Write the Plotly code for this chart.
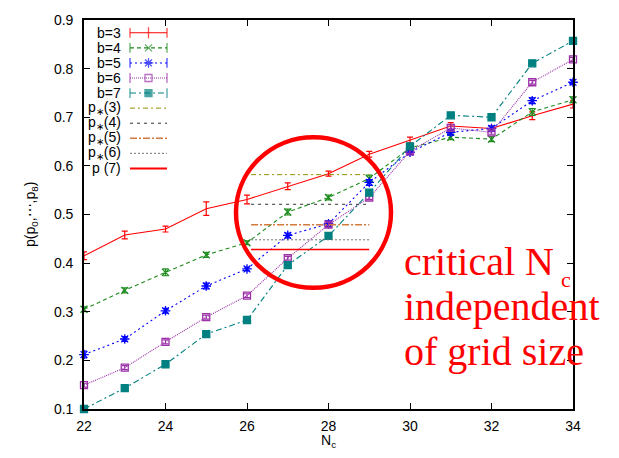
import plotly.graph_objects as go

# ---------------- data ----------------
nc = [22, 23, 24, 25, 26, 27, 28, 29, 30, 31, 32, 33, 34]
b3 = [0.415, 0.458, 0.470, 0.512, 0.531, 0.558, 0.584, 0.624, 0.653, 0.682, 0.677, 0.703, 0.727]
b3_err = [0.008, 0.008, 0.006, 0.014, 0.009, 0.007, 0.005, 0.006, 0.006, 0.007, 0.005, 0.008, 0.008]
b4 = [0.305, 0.344, 0.381, 0.417, 0.442, 0.505, 0.535, 0.574, 0.637, 0.659, 0.655, 0.711, 0.736]
b4_err = [0.005, 0.005, 0.007, 0.005, 0.004, 0.006, 0.005, 0.007, 0.006, 0.005, 0.005, 0.007, 0.006]
b5 = [0.212, 0.244, 0.302, 0.353, 0.388, 0.457, 0.481, 0.566, 0.628, 0.669, 0.677, 0.734, 0.772]
b5_err = [0.007, 0.005, 0.005, 0.006, 0.004, 0.005, 0.006, 0.006, 0.005, 0.006, 0.005, 0.006, 0.005]
b6 = [0.149, 0.185, 0.238, 0.289, 0.333, 0.410, 0.479, 0.535, 0.630, 0.678, 0.669, 0.772, 0.819]
b6_err = [0.004, 0.004, 0.004, 0.004, 0.004, 0.004, 0.005, 0.004, 0.004, 0.004, 0.004, 0.004, 0.004]
b7 = [0.100, 0.143, 0.192, 0.254, 0.283, 0.396, 0.456, 0.545, 0.640, 0.704, 0.700, 0.811, 0.857]
b7_err = [0.003, 0.003, 0.003, 0.005, 0.003, 0.004, 0.004, 0.005, 0.004, 0.004, 0.003, 0.003, 0.003]

pstar_x = [26.1, 29.0]
pstar_levels = [0.582, 0.521, 0.479, 0.448, 0.428]
pstar_names = ["p<sub>∗</sub>(3)", "p<sub>∗</sub>(4)", "p<sub>∗</sub>(5)", "p<sub>∗</sub>(6)", "p (7)"]

series_names = ["b=3", "b=4", "b=5", "b=6", "b=7"]
x_ticks = [22, 24, 26, 28, 30, 32, 34]
y_ticks = [0.1, 0.2, 0.3, 0.4, 0.5, 0.6, 0.7, 0.8, 0.9]

# ---------------- styles ----------------
W, H = 619, 458
L, R, T, B = 84, 573, 14, 409  # plot area in pixels


def px(x):
    return (x - L) / (R - L)


def py(y):
    return (B - y) / (B - T)


series_styles = [
    dict(color="#ff0000", dash="solid", symbol="line-ns-open", msize=0),
    dict(color="#1e8c1e", dash="4px,3px", symbol="x-thin-open", msize=7),
    dict(color="#0000ff", dash="2px,3px", symbol="asterisk-open", msize=8),
    dict(color="#9b30a8", dash="1px,1px", symbol="square-open", msize=7),
    dict(color="#008080", dash="6px,3px,2px,3px", symbol="square", msize=7),
]
pstar_styles = [
    dict(color="#8f8f00", dash="5px,3px,2px,3px", width=1),
    dict(color="#303030", dash="3px,4px", width=1),
    dict(color="#d07a3c", dash="7px,2px,2px,2px", width=1.5),
    dict(color="#707070", dash="2px,2px", width=1),
    dict(color="#ff0000", dash="solid", width=1.5),
]

fig = go.Figure()

all_y = [b3, b4, b5, b6, b7]
all_err = [b3_err, b4_err, b5_err, b6_err, b7_err]
for name, ys, errs, st in zip(series_names, all_y, all_err, series_styles):
    marker = dict(color=st["color"], size=st["msize"], symbol=st["symbol"],
                  line=dict(color=st["color"], width=1.3))
    if name == "b=3":
        marker = dict(color=st["color"], size=0.1)
    fig.add_trace(go.Scatter(
        x=nc, y=ys, mode="lines+markers", name=name, cliponaxis=False,
        line=dict(color=st["color"], width=1.1, dash=st["dash"]),
        marker=marker,
        error_y=dict(type="data", array=errs, visible=True, color=st["color"],
                     thickness=1.2, width=3),
        showlegend=False,
    ))

for name, lvl, st in zip(pstar_names, pstar_levels, pstar_styles):
    fig.add_trace(go.Scatter(
        x=pstar_x, y=[lvl, lvl], mode="lines", name=name,
        line=dict(color=st["color"], width=st["width"], dash=st["dash"]),
        showlegend=False,
    ))

# ---------------- custom legend (pixel coords on overlay axes) ----------------
leg_rows = [27, 42.3, 57.6, 72.9, 88.2, 103.5, 118.8, 134.1, 149.4, 164.7]
leg_text_right = 123
leg_x0, leg_xm, leg_x1 = 130, 148.5, 167
for i, (name, st) in enumerate(zip(series_names, series_styles)):
    yy = leg_rows[i]
    fig.add_trace(go.Scatter(
        x=[leg_x0, leg_x1], y=[yy, yy], mode="lines", xaxis="x2", yaxis="y2",
        line=dict(color=st["color"], width=1.1, dash=st["dash"]),
        showlegend=False, hoverinfo="skip", cliponaxis=False,
    ))
    mid_sym = "line-ns-open" if name == "b=3" else st["symbol"]
    mid_size = 8 if name == "b=3" else st["msize"]
    fig.add_trace(go.Scatter(
        x=[leg_x0, leg_xm, leg_x1], y=[yy, yy, yy], mode="markers", xaxis="x2", yaxis="y2",
        marker=dict(symbol=["line-ns-open", mid_sym, "line-ns-open"],
                    size=[7, mid_size, 7], color=st["color"],
                    line=dict(color=st["color"], width=1.3)),
        showlegend=False, hoverinfo="skip", cliponaxis=False,
    ))
for j, (name, st) in enumerate(zip(pstar_names, pstar_styles)):
    yy = leg_rows[5 + j]
    fig.add_trace(go.Scatter(
        x=[leg_x0, leg_x1], y=[yy, yy], mode="lines", xaxis="x2", yaxis="y2",
        line=dict(color=st["color"], width=st["width"] + 0.5 if j == 4 else st["width"], dash=st["dash"]),
        showlegend=False, hoverinfo="skip", cliponaxis=False,
    ))

annotations = []
for i, name in enumerate(series_names + pstar_names):
    annotations.append(dict(
        x=px(leg_text_right), y=py(leg_rows[i]), xref="paper", yref="paper", text=name,
        showarrow=False, xanchor="right", yanchor="middle",
        font=dict(family="Liberation Sans, Arial", size=14, color="#000000"),
    ))

# axis titles
annotations.append(dict(x=px(328), y=py(441), xref="paper", yref="paper", text="N<sub>c</sub>",
                        showarrow=False, xanchor="center", yanchor="middle",
                        font=dict(family="Liberation Sans, Arial", size=14, color="#000")))
annotations.append(dict(x=px(31), y=py(212), xref="paper", yref="paper",
                        text="p(p<sub>0</sub>,⋯,p<sub>8</sub>)", textangle=-90,
                        showarrow=False, xanchor="center", yanchor="middle",
                        font=dict(family="Liberation Sans, Arial", size=14, color="#000")))

# red text
red_font = dict(family="Liberation Serif, Times New Roman", size=40, color="#ff0000")
for txt, yc in [("critical N", 259), ("independent", 305), ("of grid size", 351)]:
    annotations.append(dict(x=px(402), y=py(yc), xref="paper", yref="paper", text=txt, showarrow=False,
                            xanchor="left", yanchor="middle", font=red_font))
annotations.append(dict(x=px(566), y=py(277), xref="paper", yref="paper", text="c", showarrow=False,
                        xanchor="center", yanchor="middle",
                        font=dict(family="Liberation Serif, Times New Roman", size=22, color="#ff0000")))

# red circle
circle = dict(type="circle", xref="paper", yref="paper",
              x0=px(236), x1=px(391), y0=py(286), y1=py(133),
              line=dict(color="#ff0000", width=4.5), layer="above")

axis_common = dict(showgrid=False, zeroline=False, showline=True, linecolor="#000000",
                   linewidth=1.6, mirror="ticks", ticks="inside", ticklen=6,
                   tickcolor="#000000", tickwidth=1.2,
                   tickfont=dict(family="Liberation Sans, Arial", size=14, color="#000000"))

fig.update_layout(
    width=W, height=H,
    margin=dict(l=L, r=W - R, t=T, b=H - B, pad=0),
    paper_bgcolor="white", plot_bgcolor="white",
    showlegend=False,
    xaxis=dict(range=[22, 34], tickvals=x_ticks, ticktext=[str(v) for v in x_ticks],
               ticklabelstandoff=3, **axis_common),
    yaxis=dict(range=[0.1, 0.9], tickvals=y_ticks, ticktext=[f"{v:.1f}" for v in y_ticks],
               ticklabelstandoff=6, **axis_common),
    xaxis2=dict(overlaying="x", range=[L, R], visible=False, fixedrange=True),
    yaxis2=dict(overlaying="y", range=[B, T], visible=False, fixedrange=True),
    annotations=annotations,
    shapes=[circle],
)

fig.write_html("out.html")
